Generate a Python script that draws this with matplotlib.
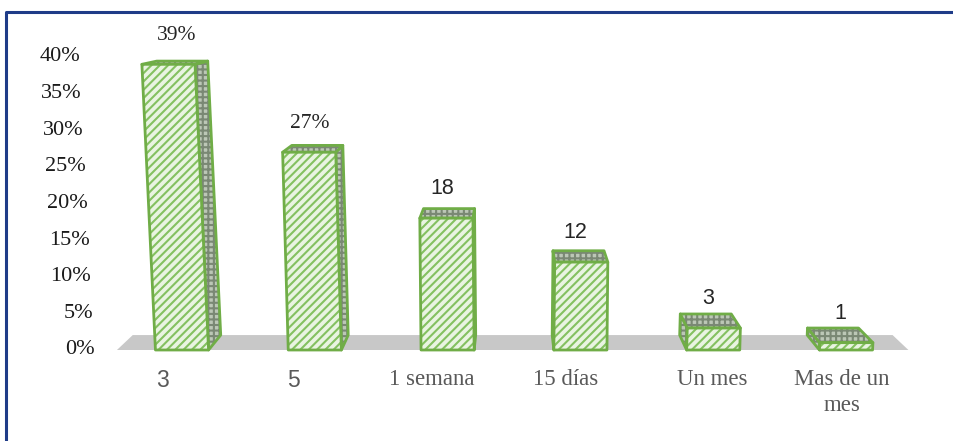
import matplotlib
matplotlib.use("Agg")
from matplotlib import pyplot as plt
from matplotlib.patches import Polygon
import numpy as np

# data
categories = ['3', '5', '1 semana', '15 días', 'Un mes', 'Mas de un\nmes']
values = [39, 27, 18, 12, 3, 1]
value_labels = ['39%', '27%', '18', '12', '3', '1']
yticks = [0, 5, 10, 15, 20, 25, 30, 35, 40]
ytick_labels = ['0%', '5%', '10%', '15%', '20%', '25%', '30%', '35%', '40%']

# layout (pixel scale of the reference)
W, H = 954, 441
PX_X = 132.8     # px per category
PX_Y = 7.325     # px per percent
X0_PX = 182      # px of first bar centre
Y0_PX = 350      # px (from top) of value 0

BAR_W = 0.40
VX = 2.49          # vanishing x
SHIFT_K = 0.040    # horizontal back shift
DEPTH0, DEPTH_K = 2.04, 0.041
LEAN_K = 1.05e-3
cat_shift = [-0.15, -0.16, -0.12, -0.11, -0.01, -0.03]

GREEN = '#70ad47'
FRONT = '#e9f4e1'
STRIPE = '#84c160'
DARK = '#bcc7b6'
DARK_HATCH = '#7a8874'
FLOOR = '#c8c8c8'
SERIF = ['Liberation Serif', 'DejaVu Serif']
SANS = ['Liberation Sans', 'DejaVu Sans']

plt.rcParams['hatch.linewidth'] = 1.5

fig = plt.figure(figsize=(W / 100, H / 100), dpi=100)
ax = fig.add_axes([0, 0, 1, 1])
ax.set_xlim(-X0_PX / PX_X, (W - X0_PX) / PX_X)
ax.set_ylim(-(H - Y0_PX) / PX_Y, Y0_PX / PX_Y)
ax.axis('off')


def back(x, y):
    return (x + SHIFT_K * (VX - x), y + DEPTH0 - DEPTH_K * y)


def face(pts, fc, hatch, hc, z, edge=True):
    ax.add_patch(Polygon(pts, closed=True, facecolor=fc, edgecolor=hc,
                         hatch=hatch, linewidth=0, zorder=z))
    if edge:
        ax.add_patch(Polygon(pts, closed=True, fill=False, edgecolor=GREEN,
                             linewidth=2, joinstyle='round', zorder=z + 0.1))


# floor
fx0, fx1 = -0.49, 5.47
floor = [(fx0, 0), (fx1, 0), back(fx1, 0), back(fx0, 0)]
ax.add_patch(Polygon(floor, closed=True, facecolor=FLOOR, edgecolor='none', zorder=1))

for i, v in enumerate(values):
    xl, xr = i - BAR_W / 2, i + BAR_W / 2
    lean = LEAN_K * (i - VX) * v
    tl, tr = (xl + lean, v), (xr + lean, v)
    front = [(xl, 0), (xr, 0), tr, tl]
    top = [tl, tr, back(*tr), back(*tl)]
    if i < VX:
        side = [(xr, 0), tr, back(*tr), back(xr, 0)]
    else:
        side = [(xl, 0), tl, back(*tl), back(xl, 0)]
    face(side, DARK, '+++', DARK_HATCH, 2)
    face(top, DARK, '+++', DARK_HATCH, 3)
    face(front, FRONT, '////', STRIPE, 4)

    fam = SERIF if value_labels[i].endswith('%') else SANS
    ax.text(i - 0.04, v + 2.6, value_labels[i], ha='center', va='bottom',
            fontsize=15.5, family=fam, color='#262626', zorder=6)

    cfam = SANS if categories[i].isdigit() else SERIF
    ax.text(i + cat_shift[i], -19 / PX_Y, categories[i], ha='center', va='top',
            fontsize=16.5, family=cfam, color='#595959', linespacing=1.3, zorder=6)

# y tick labels, right edge slanting with the perspective
for t, lab in zip(yticks, ytick_labels):
    xr_px = 95 - 15 * t / 40
    ax.text((xr_px - X0_PX) / PX_X, t, lab, ha='right', va='center',
            fontsize=16, family=SERIF, color='#1a1a1a')

# border (top and left)
fig.add_artist(plt.Line2D([6 / W, 6 / W, 1], [0, 1 - 12 / H, 1 - 12 / H],
                          color='#1f3c88', linewidth=2.2))

fig.savefig('out.png', dpi=100)
